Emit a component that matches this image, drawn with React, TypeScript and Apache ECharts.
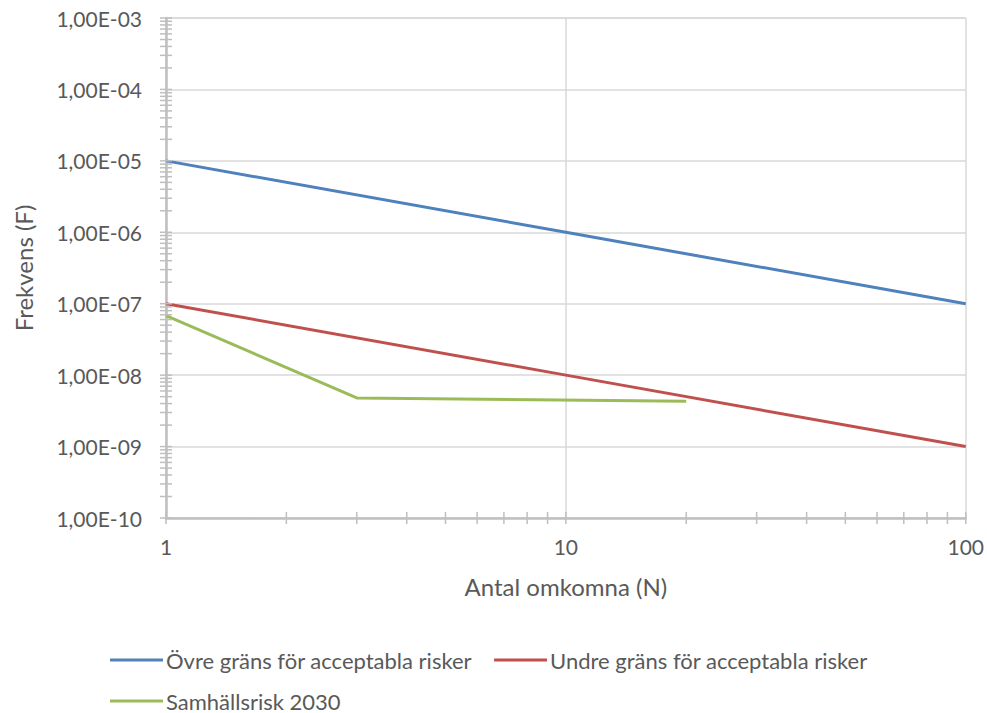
import React, { useEffect, useRef } from "react";
import * as echarts from "echarts";

const seriesNames = [
  "Övre gräns för acceptabla risker",
  "Undre gräns för acceptabla risker",
  "Samhällsrisk 2030",
];
const seriesColors = ["#4F81BD", "#C0504D", "#9BBB59"];

const upperN = [1, 10, 100];
const upperF = [1e-5, 1e-6, 1e-7];
const lowerN = [1, 10, 100];
const lowerF = [1e-7, 1e-8, 1e-9];
const societalN = [1, 3, 20];
const societalF = [6.8e-8, 4.8e-9, 4.3e-9];

const xMin = 1;
const xMax = 100;
const yMin = 1e-10;
const yMax = 1e-3;

const xAxisTitle = "Antal omkomna (N)";
const yAxisTitle = "Frekvens (F)";

const FONT = "Lato, 'Open Sans', sans-serif";
const TEXT = "#595959";
const AXIS = "#bfbfbf";
const GRID = "#d9d9d9";

function fmtY(v: number): string {
  const e = Math.round(Math.log10(v));
  const m = v / Math.pow(10, e);
  const sign = e < 0 ? "-" : "+";
  return m.toFixed(2).replace(".", ",") + "E" + sign + String(Math.abs(e)).padStart(2, "0");
}

function buildTicks(): number[][] {
  const t: number[][] = [];
  for (let k = 0; k < 2; k++) {
    for (let m = 1; m <= 9; m++) t.push([m * Math.pow(10, k), yMin, 0]);
  }
  t.push([xMax, yMin, 0]);
  for (let k = -10; k < -3; k++) {
    for (let m = 1; m <= 9; m++) t.push([xMin, m * Math.pow(10, k), 1]);
  }
  t.push([xMin, yMax, 1]);
  return t;
}

export default function App() {
  const ref = useRef<HTMLDivElement>(null);
  useEffect(() => {
    if (!ref.current) return;
    const chart = echarts.init(ref.current, undefined, { renderer: "svg" });
    const zip = (a: number[], b: number[]) => a.map((x, i) => [x, b[i]]);
    const lineSeries = [
      zip(upperN, upperF),
      zip(lowerN, lowerF),
      zip(societalN, societalF),
    ].map((d, i) => ({
      name: seriesNames[i],
      type: "line",
      data: d,
      symbol: "none",
      showSymbol: false,
      lineStyle: { color: seriesColors[i], width: 3 },
      itemStyle: { color: seriesColors[i] },
      z: 3,
    }));
    const legendText = { fontFamily: FONT, fontSize: 22, color: TEXT, padding: [0, 0, 0, -2] };
    chart.setOption({
      animation: false,
      backgroundColor: "#ffffff",
      textStyle: { fontFamily: FONT, color: TEXT },
      grid: { left: 166, right: 21, top: 18, bottom: 195, containLabel: false },
      legend: [
        {
          data: [seriesNames[0], seriesNames[1]],
          left: 105,
          top: 644,
          icon: "rect",
          itemWidth: 53,
          itemHeight: 3,
          itemGap: 22,
          textStyle: legendText,
        },
        {
          data: [seriesNames[2]],
          left: 105,
          top: 685,
          padding: [5, 5, 0, 5],
          icon: "rect",
          itemWidth: 53,
          itemHeight: 3,
          textStyle: legendText,
        },
      ],
      xAxis: {
        type: "log",
        logBase: 10,
        min: xMin,
        max: xMax,
        interval: 1,
        name: xAxisTitle,
        nameLocation: "middle",
        nameGap: 56,
        nameTextStyle: { fontFamily: FONT, fontSize: 24, color: TEXT },
        axisLine: { show: true, lineStyle: { color: AXIS, width: 2.5 } },
        axisTick: { show: false },
        axisLabel: {
          fontFamily: FONT,
          fontSize: 21,
          color: TEXT,
          margin: 18,
          formatter: (v: number) => String(Math.round(v)),
          showMinLabel: true,
          showMaxLabel: true,
        },
        splitLine: { show: true, lineStyle: { color: GRID, width: 1.5 } },
      },
      yAxis: {
        type: "log",
        logBase: 10,
        min: yMin,
        max: yMax,
        interval: 1,
        name: yAxisTitle,
        nameLocation: "middle",
        nameGap: 131,
        nameTextStyle: { fontFamily: FONT, fontSize: 24, color: TEXT },
        axisLine: { show: true, lineStyle: { color: AXIS, width: 2.5 } },
        axisTick: { show: false },
        axisLabel: {
          fontFamily: FONT,
          fontSize: 21,
          color: TEXT,
          margin: 24,
          formatter: (v: number) => fmtY(v),
          showMinLabel: true,
          showMaxLabel: true,
        },
        splitLine: { show: true, lineStyle: { color: GRID, width: 1.5 } },
      },
      series: [
        ...lineSeries,
        {
          name: "ticks",
          type: "custom",
          silent: true,
          clip: false,
          z: 4,
          data: buildTicks(),
          encode: { x: 0, y: 1 },
          renderItem: (params: any, api: any) => {
            const isX = api.value(2) === 0;
            const p = api.coord([api.value(0), api.value(1)]);
            const L = 6;
            return {
              type: "line",
              shape: isX
                ? { x1: p[0], y1: p[1] - L, x2: p[0], y2: p[1] + L }
                : { x1: p[0] - L, y1: p[1], x2: p[0] + L, y2: p[1] },
              style: { stroke: AXIS, lineWidth: 1.5 },
            };
          },
        },
      ],
    });
    return () => chart.dispose();
  }, []);
  return (
    <div
      ref={ref}
      style={{ position: "fixed", left: 0, top: 0, width: 987, height: 713, background: "#fff" }}
    />
  );
}
